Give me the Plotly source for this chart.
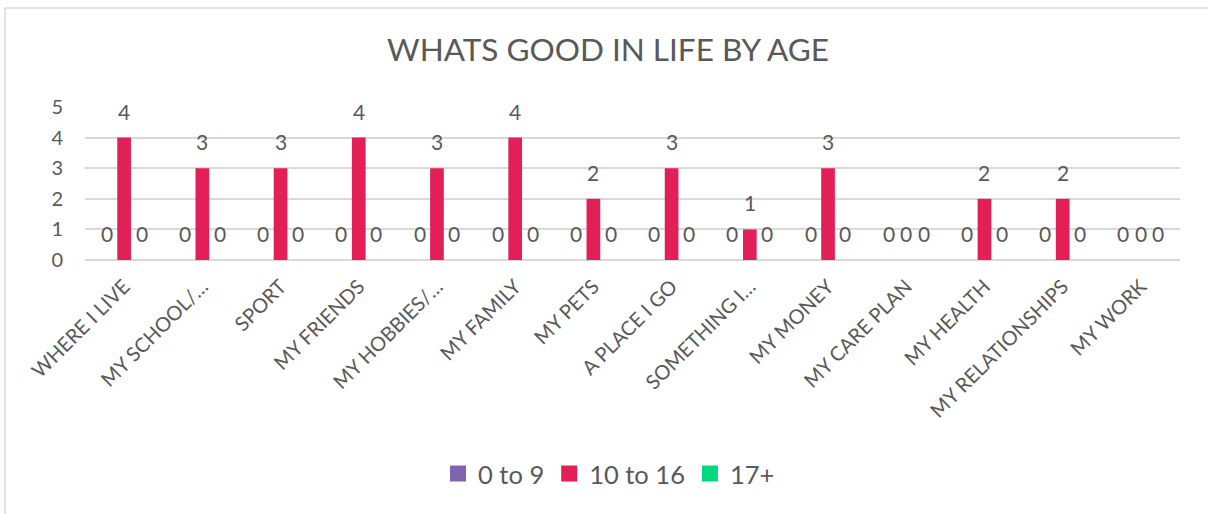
import plotly.graph_objects as go

categories = ["WHERE I LIVE", "MY SCHOOL/…", "SPORT", "MY FRIENDS", "MY HOBBIES/…",
              "MY FAMILY", "MY PETS", "A PLACE I GO", "SOMETHING I…", "MY MONEY",
              "MY CARE PLAN", "MY HEALTH", "MY RELATIONSHIPS", "MY WORK"]
age_0_9 = [0, 0, 0, 0, 0, 0, 0, 0, 0, 0, 0, 0, 0, 0]
age_10_16 = [4, 3, 3, 4, 3, 4, 2, 3, 1, 3, 0, 2, 2, 0]
age_17_plus = [0, 0, 0, 0, 0, 0, 0, 0, 0, 0, 0, 0, 0, 0]
series_names = ["0 to 9", "10 to 16", "17+"]
series_values = [age_0_9, age_10_16, age_17_plus]
colors = ["#8064B1", "#E31F57", "#00D97F"]

FONT = "Lato"
TXT = "#595959"

W, H = 1208, 514
ML, MR, MT, MB = 85, 28, 107, 254
PW = W - ML - MR
PH = H - MT - MB

slot = 0.223
bw = 0.175

fig = go.Figure()
annotations = []
for i, (name, vals, col) in enumerate(zip(series_names, series_values, colors)):
    fig.add_trace(go.Bar(
        x=categories, y=vals, name=name, marker_color=col, marker_line_width=0,
        width=bw, offset=(i - 1) * slot - bw / 2, showlegend=False,
    ))
    fig.add_trace(go.Scatter(
        x=[None], y=[None], mode="markers", name=name,
        marker=dict(symbol="square", size=16, color=col), showlegend=True,
    ))
    cat_px = PW / len(categories)
    for c, v in zip(categories, vals):
        annotations.append(dict(
            x=c, y=v, xref="x", yref="y", text=str(v), showarrow=False,
            xanchor="center", yanchor="bottom", xshift=(i - 1) * slot * cat_px,
            yshift=12, font=dict(family=FONT, size=21, color=TXT),
        ))

border = dict(color="#D9D9D9", width=1.5)
x_left = (5 - ML) / PW
y_top = (H - MB - 8) / PH

fig.update_layout(
    width=W, height=H,
    margin=dict(l=ML, r=MR, t=MT, b=MB),
    paper_bgcolor="white", plot_bgcolor="white",
    font=dict(family=FONT, color=TXT),
    title=dict(text="WHATS GOOD IN LIFE BY AGE", x=608 / W, xanchor="center",
               y=1 - 50 / H, yanchor="middle",
               font=dict(family=FONT, size=31.5, color=TXT)),
    xaxis=dict(type="category", tickangle=-45, showgrid=False, showline=False,
               ticks="", tickfont=dict(family=FONT, size=20, color=TXT),
               range=[-0.5, len(categories) - 0.5], ticklabelstandoff=10),
    yaxis=dict(range=[0, 5], dtick=1, showgrid=True, gridcolor="#D9D9D9",
               gridwidth=1.5, zeroline=True, zerolinecolor="#D9D9D9",
               zerolinewidth=1.5, showline=False, ticks="",
               tickfont=dict(family=FONT, size=20, color=TXT),
               ticklabelstandoff=21),
    legend=dict(orientation="h", x=(609 - ML) / PW, xanchor="center",
                y=(H - MB - 474) / PH, yanchor="middle",
                font=dict(family=FONT, size=25.5, color=TXT),
                itemwidth=30, tracegroupgap=0),
    annotations=annotations,
    shapes=[
        dict(type="line", xref="paper", yref="paper", x0=x_left, x1=x_left,
             y0=(H - MB - 530) / PH, y1=y_top, line=border, layer="below"),
        dict(type="line", xref="paper", yref="paper", x0=x_left, x1=(W + 20 - ML) / PW,
             y0=y_top, y1=y_top, line=border, layer="below"),
    ],
)

fig.write_html("out.html", config={"displayModeBar": False},
               post_script="document.body.style.margin='0px';")
